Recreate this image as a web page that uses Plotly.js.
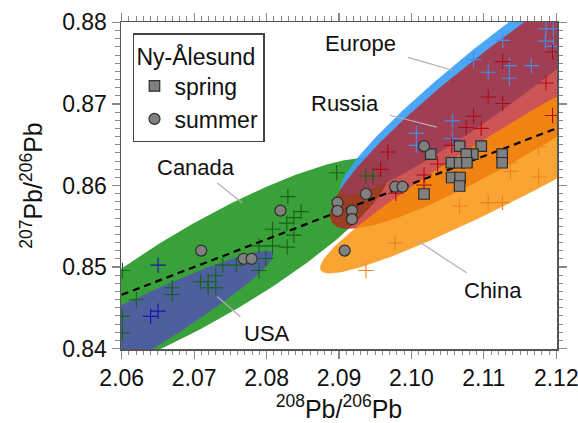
<!DOCTYPE html>
<html><head><meta charset="utf-8">
<script src="https://cdn.plot.ly/plotly-3.0.1.min.js"></script>
<style>html,body{margin:0;padding:0;background:#fff}#chart{width:578px;height:423px}</style>
</head><body><div id="chart"></div>
<script>
// ---- Source data (208Pb/206Pb, 207Pb/206Pb) ----
const canadaX=[2.08968,2.08294,2.08477,2.08377,2.08280,2.08082,2.08377,2.08082,2.08284,2.07895,2.07991,2.07895,2.07583,2.07394,2.07298,2.07087,2.07193,2.07193,2.07298,2.06698,2.06698,2.06202,2.06010,2.06010,2.06010,2.09372,2.09468];
const canadaY=[0.86157,0.85863,0.85680,0.85606,0.85538,0.85464,0.85391,0.85260,0.85244,0.85260,0.85105,0.84958,0.85024,0.85024,0.84893,0.84820,0.84820,0.84746,0.84746,0.84746,0.84664,0.84599,0.84958,0.84395,0.84192,0.86116,0.86116];
const usaX=[2.06502,2.06399,2.06502];
const usaY=[0.85024,0.84395,0.84459];
const europeX=[2.11858,2.11959,2.11849,2.11959,2.11261,2.10858,2.11353,2.11656,2.11060,2.11353,2.10565,2.10069,2.10069,2.10565];
const europeY=[0.87923,0.87923,0.87771,0.87706,0.87780,0.87544,0.87470,0.87470,0.87388,0.87315,0.86793,0.86639,0.86492,0.86577];
const russiaX=[2.11949,2.11261,2.11858,2.11060,2.11261,2.11949,2.10858,2.10757,2.10964,2.09674,2.10555,2.10362,2.09574,2.10174,2.10174,2.09784];
const russiaY=[0.87637,0.87519,0.87257,0.87086,0.87005,0.86859,0.86850,0.86712,0.86700,0.86410,0.86492,0.86263,0.86198,0.86128,0.86006,0.85905];
const chinaX=[2.11756,2.11367,2.11367,2.11756,2.10665,2.11060,2.11257,2.09775,2.09372];
const chinaY=[0.86475,0.86279,0.86174,0.86104,0.85749,0.85790,0.85790,0.85293,0.84958];
const springX=[2.10266,2.10665,2.10964,2.10848,2.10757,2.10551,2.10665,2.10766,2.11253,2.11253,2.10555,2.10672,2.10665,2.10174];
const springY=[0.86385,0.86483,0.86483,0.86385,0.86385,0.86279,0.86279,0.86279,0.86385,0.86279,0.86098,0.86098,0.85994,0.85896];
const summerX=[2.07097,2.07683,2.07793,2.08192,2.08979,2.08979,2.09179,2.09179,2.09078,2.09372,2.09775,2.09877,2.10174];
const summerY=[0.85202,0.85101,0.85101,0.85692,0.85790,0.85688,0.85692,0.85587,0.85202,0.85896,0.85985,0.85985,0.86483];
const trendX=[2.06,2.12];
const trendY=[0.8466,0.8670];
// Region ellipses: [centre x, centre y, half x-extent, slope of centre line, half vertical thickness]
const ellCanada=[2.07183,0.84957,0.02518,0.480,0.006728];
const ellUSA=[2.03963,0.83168,0.041284,0.480,0.004489];
const ellEurope=[2.11491,0.87589,0.02477,0.6578,0.005138];
const ellRussia=[2.12592,0.87780,0.037156,0.5778,0.008563];
const ellChina=[2.12592,0.868746,0.038532,0.4889,0.005138];
const xTicks=[2.06,2.07,2.08,2.09,2.10,2.11,2.12];
const xTickText=['2.06','2.07','2.08','2.09','2.10','2.11','2.12'];
const yTicks=[0.84,0.85,0.86,0.87,0.88];
const yTickText=['0.84','0.85','0.86','0.87','0.88'];

function minorVals(a,b,n){const v=[];for(let i=0;i<=n;i++)v.push(+(a+(b-a)*i/n).toFixed(4));return v;}
function ellipse(p){const [cx,cy,ax,s,h]=p;const xs=[],ys=[];
  for(let i=0;i<=240;i++){const t=2*Math.PI*i/240;xs.push(cx+ax*Math.cos(t));ys.push(cy+s*ax*Math.cos(t)+h*Math.sin(t));}
  return {xs,ys};}
function fillTrace(p,color){const e=ellipse(p);return {x:e.xs,y:e.ys,type:'scatter',mode:'lines',fill:'toself',fillcolor:color,line:{width:0,color:'rgba(0,0,0,0)'},hoverinfo:'skip',showlegend:false};}
function crossTrace(x,y,color){return {x,y,type:'scatter',mode:'markers',marker:{symbol:'cross-thin',size:11,line:{width:1.1,color}},showlegend:false,hoverinfo:'skip'};}

const traces=[
  fillTrace(ellCanada,'rgb(58,160,58)'),
  fillTrace(ellUSA,'rgba(82,80,182,0.8)'),
  fillTrace(ellEurope,'rgba(60,158,245,0.92)'),
  fillTrace(ellRussia,'rgba(188,28,28,0.75)'),
  fillTrace(ellChina,'rgba(249,143,0,0.8)'),
  crossTrace(canadaX,canadaY,'rgb(20,100,20)'),
  crossTrace(usaX,usaY,'rgb(20,20,170)'),
  crossTrace(europeX,europeY,'rgb(70,140,235)'),
  crossTrace(russiaX,russiaY,'rgb(175,10,20)'),
  crossTrace(chinaX,chinaY,'rgb(235,130,30)'),
  {x:trendX,y:trendY,type:'scatter',mode:'lines',line:{color:'black',width:2.2,dash:'7px,5px'},showlegend:false,hoverinfo:'skip'},
  {x:springX,y:springY,type:'scatter',mode:'markers',name:'spring',marker:{symbol:'square',size:10.5,color:'rgb(128,128,128)',line:{width:1.2,color:'rgb(45,45,45)'}}},
  {x:summerX,y:summerY,type:'scatter',mode:'markers',name:'summer',marker:{symbol:'circle',size:11,color:'rgb(128,128,128)',line:{width:1.2,color:'rgb(45,45,45)'}}}
];

const F='"Liberation Sans", Arial, sans-serif';
function lbl(text,x,y){return {text,x,y,xref:'x',yref:'y',showarrow:false,font:{family:F,size:22,color:'#111'},xanchor:'center',yanchor:'middle'};}
function lead(x0,y0,x1,y1){return {type:'line',xref:'x',yref:'y',x0,y0,x1,y1,line:{color:'rgb(175,175,175)',width:1.2},layer:'above'};}

const TC='#888';
const axisCommon={showline:true,linecolor:'#555',linewidth:1.5,mirror:'allticks',ticks:'outside',ticklen:8,tickwidth:1.1,tickcolor:TC,showgrid:false,zeroline:false,tickfont:{family:F,size:23,color:'#111'},tickmode:'array',ticklabeloverflow:'allow'};

const layout={
  width:578,height:423,margin:{l:121,r:21,t:22,b:74},
  paper_bgcolor:'white',plot_bgcolor:'white',font:{family:F,color:'#111'},
  xaxis:Object.assign({},axisCommon,{range:[2.0599,2.1201],tickvals:xTicks,ticktext:xTickText,minor:{tickmode:'array',tickvals:minorVals(2.06,2.12,60),ticks:'outside',ticklen:4.5,tickwidth:1,tickcolor:TC,showgrid:false},title:{text:'<sup>208</sup>Pb/<sup>206</sup>Pb',font:{family:F,size:25},standoff:8}}),
  yaxis:Object.assign({},axisCommon,{range:[0.83995,0.88005],tickvals:yTicks,ticktext:yTickText,minor:{tickmode:'array',tickvals:minorVals(0.84,0.88,40),ticks:'outside',ticklen:4.5,tickwidth:1,tickcolor:TC,showgrid:false},title:{text:'<sup>207</sup>Pb/<sup>206</sup>Pb',font:{family:F,size:25},standoff:12}}),
  showlegend:true,
  legend:{x:0.0275,y:0.966,xanchor:'left',yanchor:'top',bgcolor:'white',bordercolor:'#444',borderwidth:1.5,font:{family:F,size:23},title:{text:'Ny-Ålesund',font:{family:F,size:23}},itemwidth:30,tracegroupgap:0},
  annotations:[
    lbl('Canada',2.07032,0.86226),
    lbl('USA',2.08009,0.84183),
    lbl('Europe',2.09303,0.87743),
    lbl('Russia',2.09083,0.87009),
    lbl('China',2.11133,0.84709)
  ],
  shapes:[
    lead(2.07321,0.86031,2.07665,0.85786),
    lead(2.07321,0.84636,2.07638,0.84391),
    lead(2.09950,0.87572,2.10569,0.87413),
    lead(2.09702,0.86862,2.10349,0.86716),
    lead(2.10087,0.85321,2.10761,0.84930)
  ]
};
Plotly.newPlot('chart',traces,layout,{displayModeBar:false,staticPlot:true});
</script></body></html>
